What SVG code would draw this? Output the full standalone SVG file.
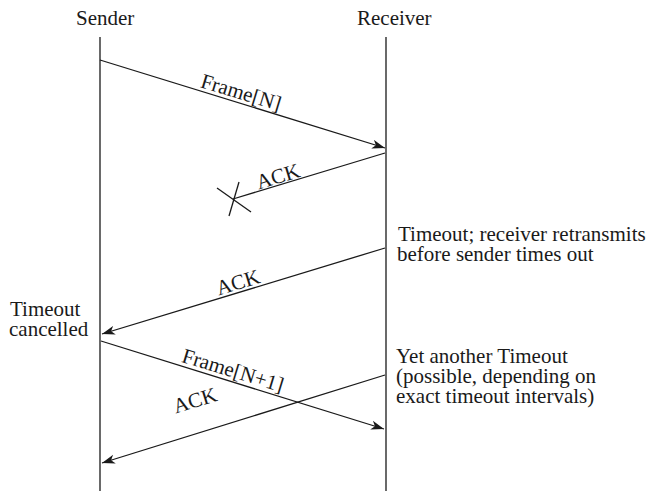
<svg xmlns="http://www.w3.org/2000/svg" width="650" height="491" viewBox="0 0 650 491">
<style>
text{font-family:"Liberation Serif","Times New Roman",serif;font-size:21px;fill:#1a1a1a}
.l{stroke:#1a1a1a;stroke-width:1.3;fill:none}
.a{marker-end:url(#ah)}
</style>
<defs>
<marker id="ah" markerUnits="userSpaceOnUse" viewBox="-13 -5 14 10" refX="0" refY="0" markerWidth="14" markerHeight="10" orient="auto">
<path d="M0,0 L-13,-4.5 L-9.5,0 L-13,4.5 Z" fill="#1a1a1a"/>
</marker>
</defs>
<rect width="650" height="491" fill="#fff"/>
<g id="sender">
<text x="76" y="25">Sender</text>
<line class="l" x1="100" y1="37" x2="100" y2="491"/>
</g>
<g id="receiver">
<text x="357" y="25">Receiver</text>
<line class="l" x1="386" y1="37" x2="386" y2="491"/>
</g>
<g id="notes">
<text x="398" y="241">Timeout; receiver retransmits</text>
<text x="397" y="261">before sender times out</text>
<text x="396" y="363">Yet another Timeout</text>
<text x="396" y="383">(possible, depending on</text>
<text x="396" y="403">exact timeout intervals)</text>
<text x="10" y="316">Timeout</text>
<text x="9" y="336">cancelled</text>
</g>
<g id="connectors">
<line class="l a" x1="100" y1="60" x2="385" y2="148"/>
<text transform="translate(239,99) rotate(17)" text-anchor="middle">Frame[N]</text>
<line class="l" x1="385" y1="153" x2="233" y2="199"/>
<line class="l" x1="217" y1="188" x2="251" y2="212"/>
<line class="l" x1="239" y1="182" x2="229" y2="216"/>
<text transform="translate(280,183) rotate(-17)" text-anchor="middle">ACK</text>
<line class="l a" x1="385" y1="248" x2="102" y2="334"/>
<text transform="translate(240,289) rotate(-17)" text-anchor="middle">ACK</text>
<line class="l a" x1="101" y1="341" x2="384" y2="429"/>
<text transform="translate(231,377) rotate(17)" text-anchor="middle">Frame[N+1]</text>
<line class="l a" x1="385" y1="375" x2="102" y2="463"/>
<text transform="translate(197,407) rotate(-17)" text-anchor="middle">ACK</text>
</g>
</svg>
